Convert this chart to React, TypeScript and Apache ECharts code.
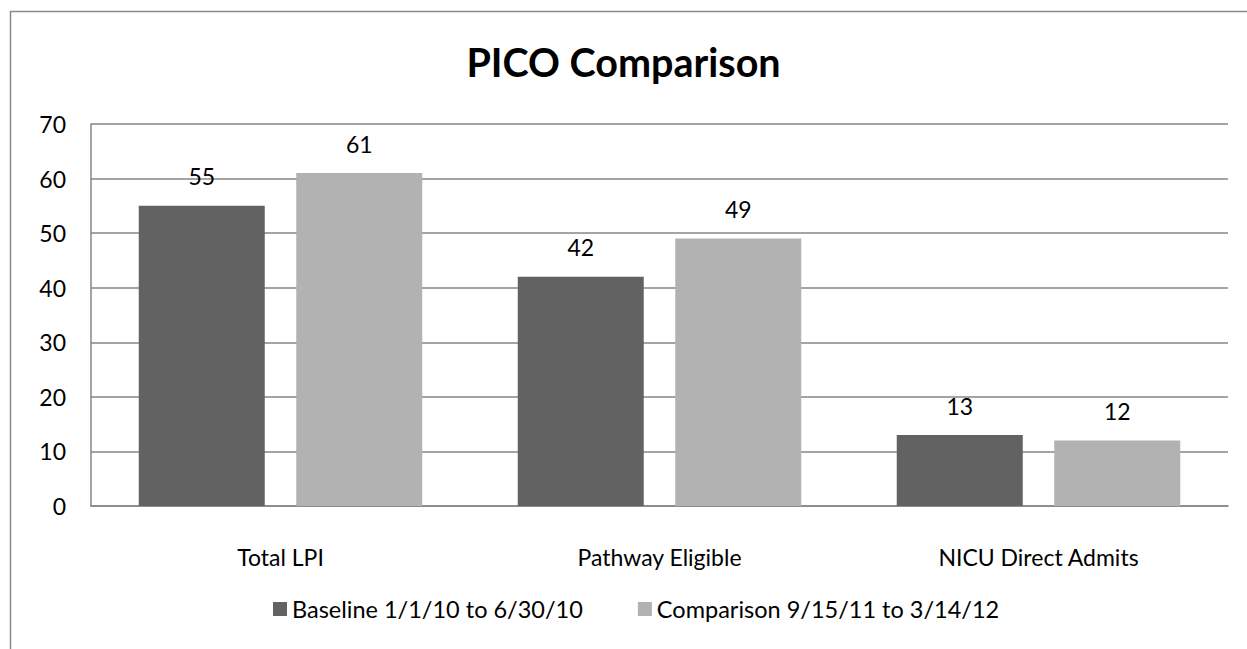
import React, { useEffect, useRef } from "react";
import * as echarts from "echarts";

const categories = ["Total LPI", "Pathway Eligible", "NICU Direct Admits"];
const baseline = [55, 42, 13];
const comparison = [61, 49, 12];
const seriesNames = ["Baseline 1/1/10 to 6/30/10", "Comparison 9/15/11 to 3/14/12"];
const titleText = "PICO Comparison";

const FONT = "Lato, 'Open Sans', sans-serif";
const FS = 23;

export default function App() {
  const ref = useRef<HTMLDivElement>(null);
  useEffect(() => {
    if (!ref.current) return;
    const chart = echarts.init(ref.current, undefined, { renderer: "svg" });
    chart.setOption({
      animation: false,
      backgroundColor: "#ffffff",
      textStyle: { fontFamily: FONT },
      graphic: [
        {
          type: "rect",
          shape: { x: 10.5, y: 11.5, width: 1400, height: 800 },
          style: { fill: "none", stroke: "#8a8a8a", lineWidth: 1.5 },
          silent: true,
          z: -1,
        },
      ],
      title: {
        text: titleText,
        left: "center",
        top: 36,
        textStyle: { fontFamily: FONT, fontSize: 39.5, fontWeight: "bold", color: "#000" },
      },
      legend: {
        top: 592,
        left: 268,
        itemWidth: 14,
        itemHeight: 14,
        itemGap: 55,
        icon: "rect",
        textStyle: { fontFamily: FONT, fontSize: 23.5, color: "#000" },
        data: seriesNames,
      },
      grid: { left: 91, right: 19, top: 124, bottom: 143, containLabel: false },
      xAxis: {
        type: "category",
        data: categories,
        axisLine: { show: true, lineStyle: { color: "#868686", width: 1.5 } },
        axisTick: { show: false },
        axisLabel: { fontFamily: FONT, fontSize: FS, color: "#000", margin: 39 },
      },
      yAxis: {
        type: "value",
        min: 0,
        max: 70,
        interval: 10,
        axisLine: { show: true, lineStyle: { color: "#868686", width: 1.5 } },
        axisTick: { show: false },
        splitLine: { show: true, lineStyle: { color: "#868686", width: 1.5 } },
        axisLabel: { fontFamily: FONT, fontSize: FS, color: "#000", margin: 25 },
      },
      series: [
        {
          name: seriesNames[0],
          type: "bar",
          data: baseline,
          barWidth: 126,
          barGap: "25%",
          itemStyle: { color: "#626262" },
          label: { show: true, position: "top", distance: 18, fontFamily: FONT, fontSize: FS, color: "#000" },
        },
        {
          name: seriesNames[1],
          type: "bar",
          data: comparison,
          barWidth: 126,
          barGap: "25%",
          itemStyle: { color: "#b2b2b2" },
          label: { show: true, position: "top", distance: 18, fontFamily: FONT, fontSize: FS, color: "#000" },
        },
      ],
    });
    return () => chart.dispose();
  }, []);
  return (
    <div
      ref={ref}
      style={{ position: "fixed", left: 0, top: 0, width: 1247, height: 649 }}
    />
  );
}
